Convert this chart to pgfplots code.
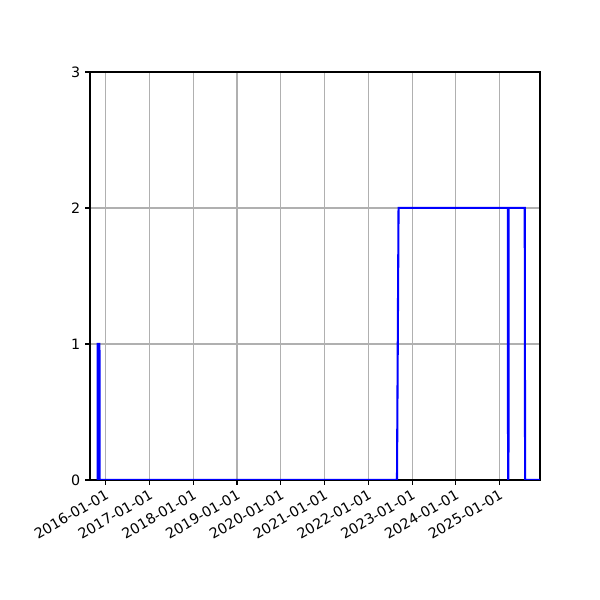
\documentclass[border=0pt]{standalone}
\usepackage{pgfplots}
\pgfplotsset{compat=1.18}
\usepackage{fontspec}
\setmainfont{DejaVu Sans}
\definecolor{gridgray}{HTML}{B0B0B0}
% x = days since 2016-01-01
\begin{document}
\fontsize{10}{12}\selectfont
\begin{tikzpicture}
\path (-65.04pt,-86.7pt) rectangle (368.6pt,346.9pt);
\begin{axis}[
  at={(0,0)}, anchor=south west,
  scale only axis,
  width=325.2pt, height=294.9pt,
  xmin=-131, xmax=3624,
  ymin=0, ymax=3,
  ytick={0,1,2,3},
  xtick={0,366,731,1096,1461,1827,2192,2557,2922,3288},
  xticklabels={2016-01-01,2017-01-01,2018-01-01,2019-01-01,2020-01-01,2021-01-01,2022-01-01,2023-01-01,2024-01-01,2025-01-01},
  xticklabel style={rotate=30, anchor=north east, inner sep=2pt},
  /pgf/number format/assume math mode=true,
  tick align=outside, xtick pos=left, ytick pos=left,
  major tick length=3.5pt,
  tick style={black, line width=0.8pt},
  axis line style={line width=0.8pt},
  grid=major,
  major grid style={gridgray, line width=0.8pt},
  tick label style={font=\fontsize{10.3}{12}\selectfont},
]
\addplot[blue, line width=1.5pt, line join=miter] coordinates {
  (-68,0) (-67,1) (-52,1) (-51,0)
  (2431,0) (2444,2)
  (3356,2) (3358,0) (3361,0) (3363,2)
  (3497,2) (3500,0) (3624,0)
};
\end{axis}
\end{tikzpicture}
\end{document}
